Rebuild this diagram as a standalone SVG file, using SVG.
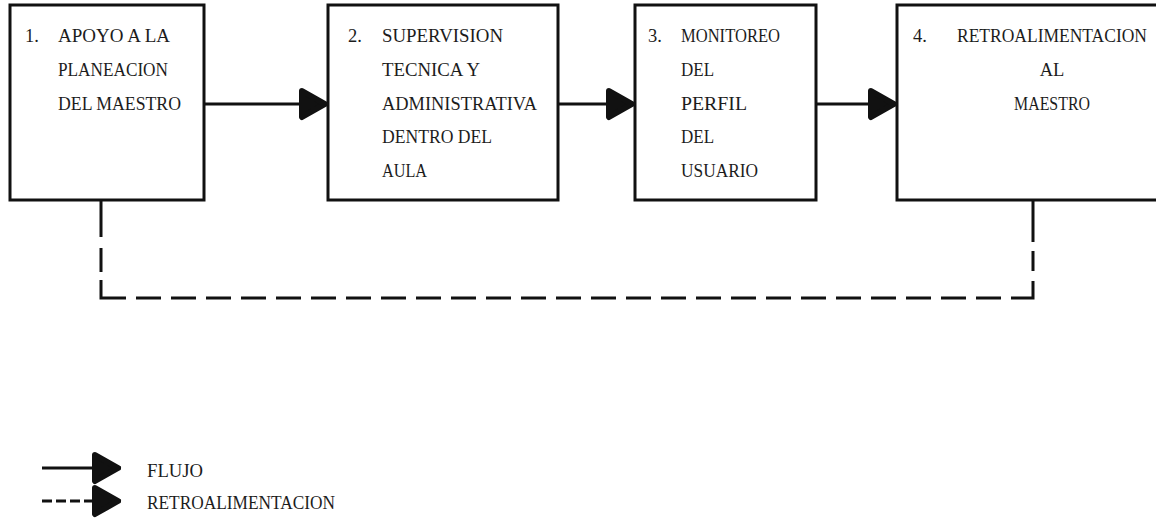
<svg xmlns="http://www.w3.org/2000/svg" width="1156" height="520" viewBox="0 0 1156 520">
  <style>
    .box { fill: #fff; stroke: #111; stroke-width: 3; }
    .flow { fill: none; stroke: #111; stroke-width: 3; }
    .feedback { fill: none; stroke: #111; stroke-width: 3; }
    text { font-family: "Liberation Serif", "DejaVu Serif", serif; font-size: 18.5px; fill: #1c1c1c; }
    .mid { text-anchor: middle; }
  </style>
  <defs>
    <!-- rounded solid arrowhead shared by all flow arrows -->
    <marker id="head" viewBox="-4 -20 38 40" refX="29" refY="0" markerWidth="38" markerHeight="40" markerUnits="userSpaceOnUse" orient="auto">
      <path d="M3,-13 L26,0 L3,13 Z" fill="#111" stroke="#111" stroke-width="6" stroke-linejoin="round"/>
    </marker>
  </defs>
  <rect width="1156" height="520" fill="#fff"/>

  <!-- process boxes -->
  <g id="node-1">
    <rect class="box" x="10" y="5" width="194" height="195"/>
    <text x="25" y="42">1.</text>
    <text x="58" y="42" textLength="112" lengthAdjust="spacingAndGlyphs">APOYO A LA</text>
    <text x="58" y="76" textLength="110" lengthAdjust="spacingAndGlyphs">PLANEACION</text>
    <text x="58" y="110" textLength="123" lengthAdjust="spacingAndGlyphs">DEL MAESTRO</text>
  </g>
  <g id="node-2">
    <rect class="box" x="328" y="5" width="230" height="195"/>
    <text x="348" y="42">2.</text>
    <text x="382" y="42" textLength="121" lengthAdjust="spacingAndGlyphs">SUPERVISION</text>
    <text x="382" y="76" textLength="98" lengthAdjust="spacingAndGlyphs">TECNICA Y</text>
    <text x="382" y="110" textLength="155" lengthAdjust="spacingAndGlyphs">ADMINISTRATIVA</text>
    <text x="382" y="143" textLength="110" lengthAdjust="spacingAndGlyphs">DENTRO DEL</text>
    <text x="382" y="177" textLength="45" lengthAdjust="spacingAndGlyphs">AULA</text>
  </g>
  <g id="node-3">
    <rect class="box" x="635" y="5" width="181" height="195"/>
    <text x="648" y="42">3.</text>
    <text x="681" y="42" textLength="99" lengthAdjust="spacingAndGlyphs">MONITOREO</text>
    <text x="681" y="76" textLength="33" lengthAdjust="spacingAndGlyphs">DEL</text>
    <text x="681" y="110" textLength="66" lengthAdjust="spacingAndGlyphs">PERFIL</text>
    <text x="681" y="143" textLength="33" lengthAdjust="spacingAndGlyphs">DEL</text>
    <text x="681" y="177" textLength="77" lengthAdjust="spacingAndGlyphs">USUARIO</text>
  </g>
  <g id="node-4">
    <rect class="box" x="897" y="5" width="280" height="195"/>
    <text x="913" y="42">4.</text>
    <text x="957" y="42" textLength="190" lengthAdjust="spacingAndGlyphs">RETROALIMENTACION</text>
    <text class="mid" x="1052" y="76">AL</text>
    <text class="mid" x="1052" y="110" textLength="76" lengthAdjust="spacingAndGlyphs">MAESTRO</text>
  </g>

  <!-- connectors -->
  <g id="connectors">
    <line class="flow" x1="204" y1="104" x2="328" y2="104" marker-end="url(#head)"/>
    <line class="flow" x1="558" y1="104" x2="635" y2="104" marker-end="url(#head)"/>
    <line class="flow" x1="816" y1="104" x2="897" y2="104" marker-end="url(#head)"/>
    <path class="feedback" d="M101,200 V298 H1033 V200"
          stroke-dasharray="37 11 24 8 43 10 25 10 25 10 25 10 25 10 25 10 25 10 25 10 25 10 25 10 25 10 25 10 25 10 25 10 25 10 25 10 25 10 25 10 25 10 25 10 25 10 25 10 25 10 25 10 25 10 25 10 39 10 20 9 60"/>
  </g>

  <!-- legend -->
  <g id="legend">
    <line class="flow" x1="42" y1="468" x2="121" y2="468" marker-end="url(#head)"/>
    <text x="147" y="477" textLength="56" lengthAdjust="spacingAndGlyphs">FLUJO</text>
    <line class="flow" x1="42" y1="501" x2="121" y2="501" stroke-dasharray="10 4" marker-end="url(#head)"/>
    <text x="147" y="509" textLength="188" lengthAdjust="spacingAndGlyphs">RETROALIMENTACION</text>
  </g>
</svg>
